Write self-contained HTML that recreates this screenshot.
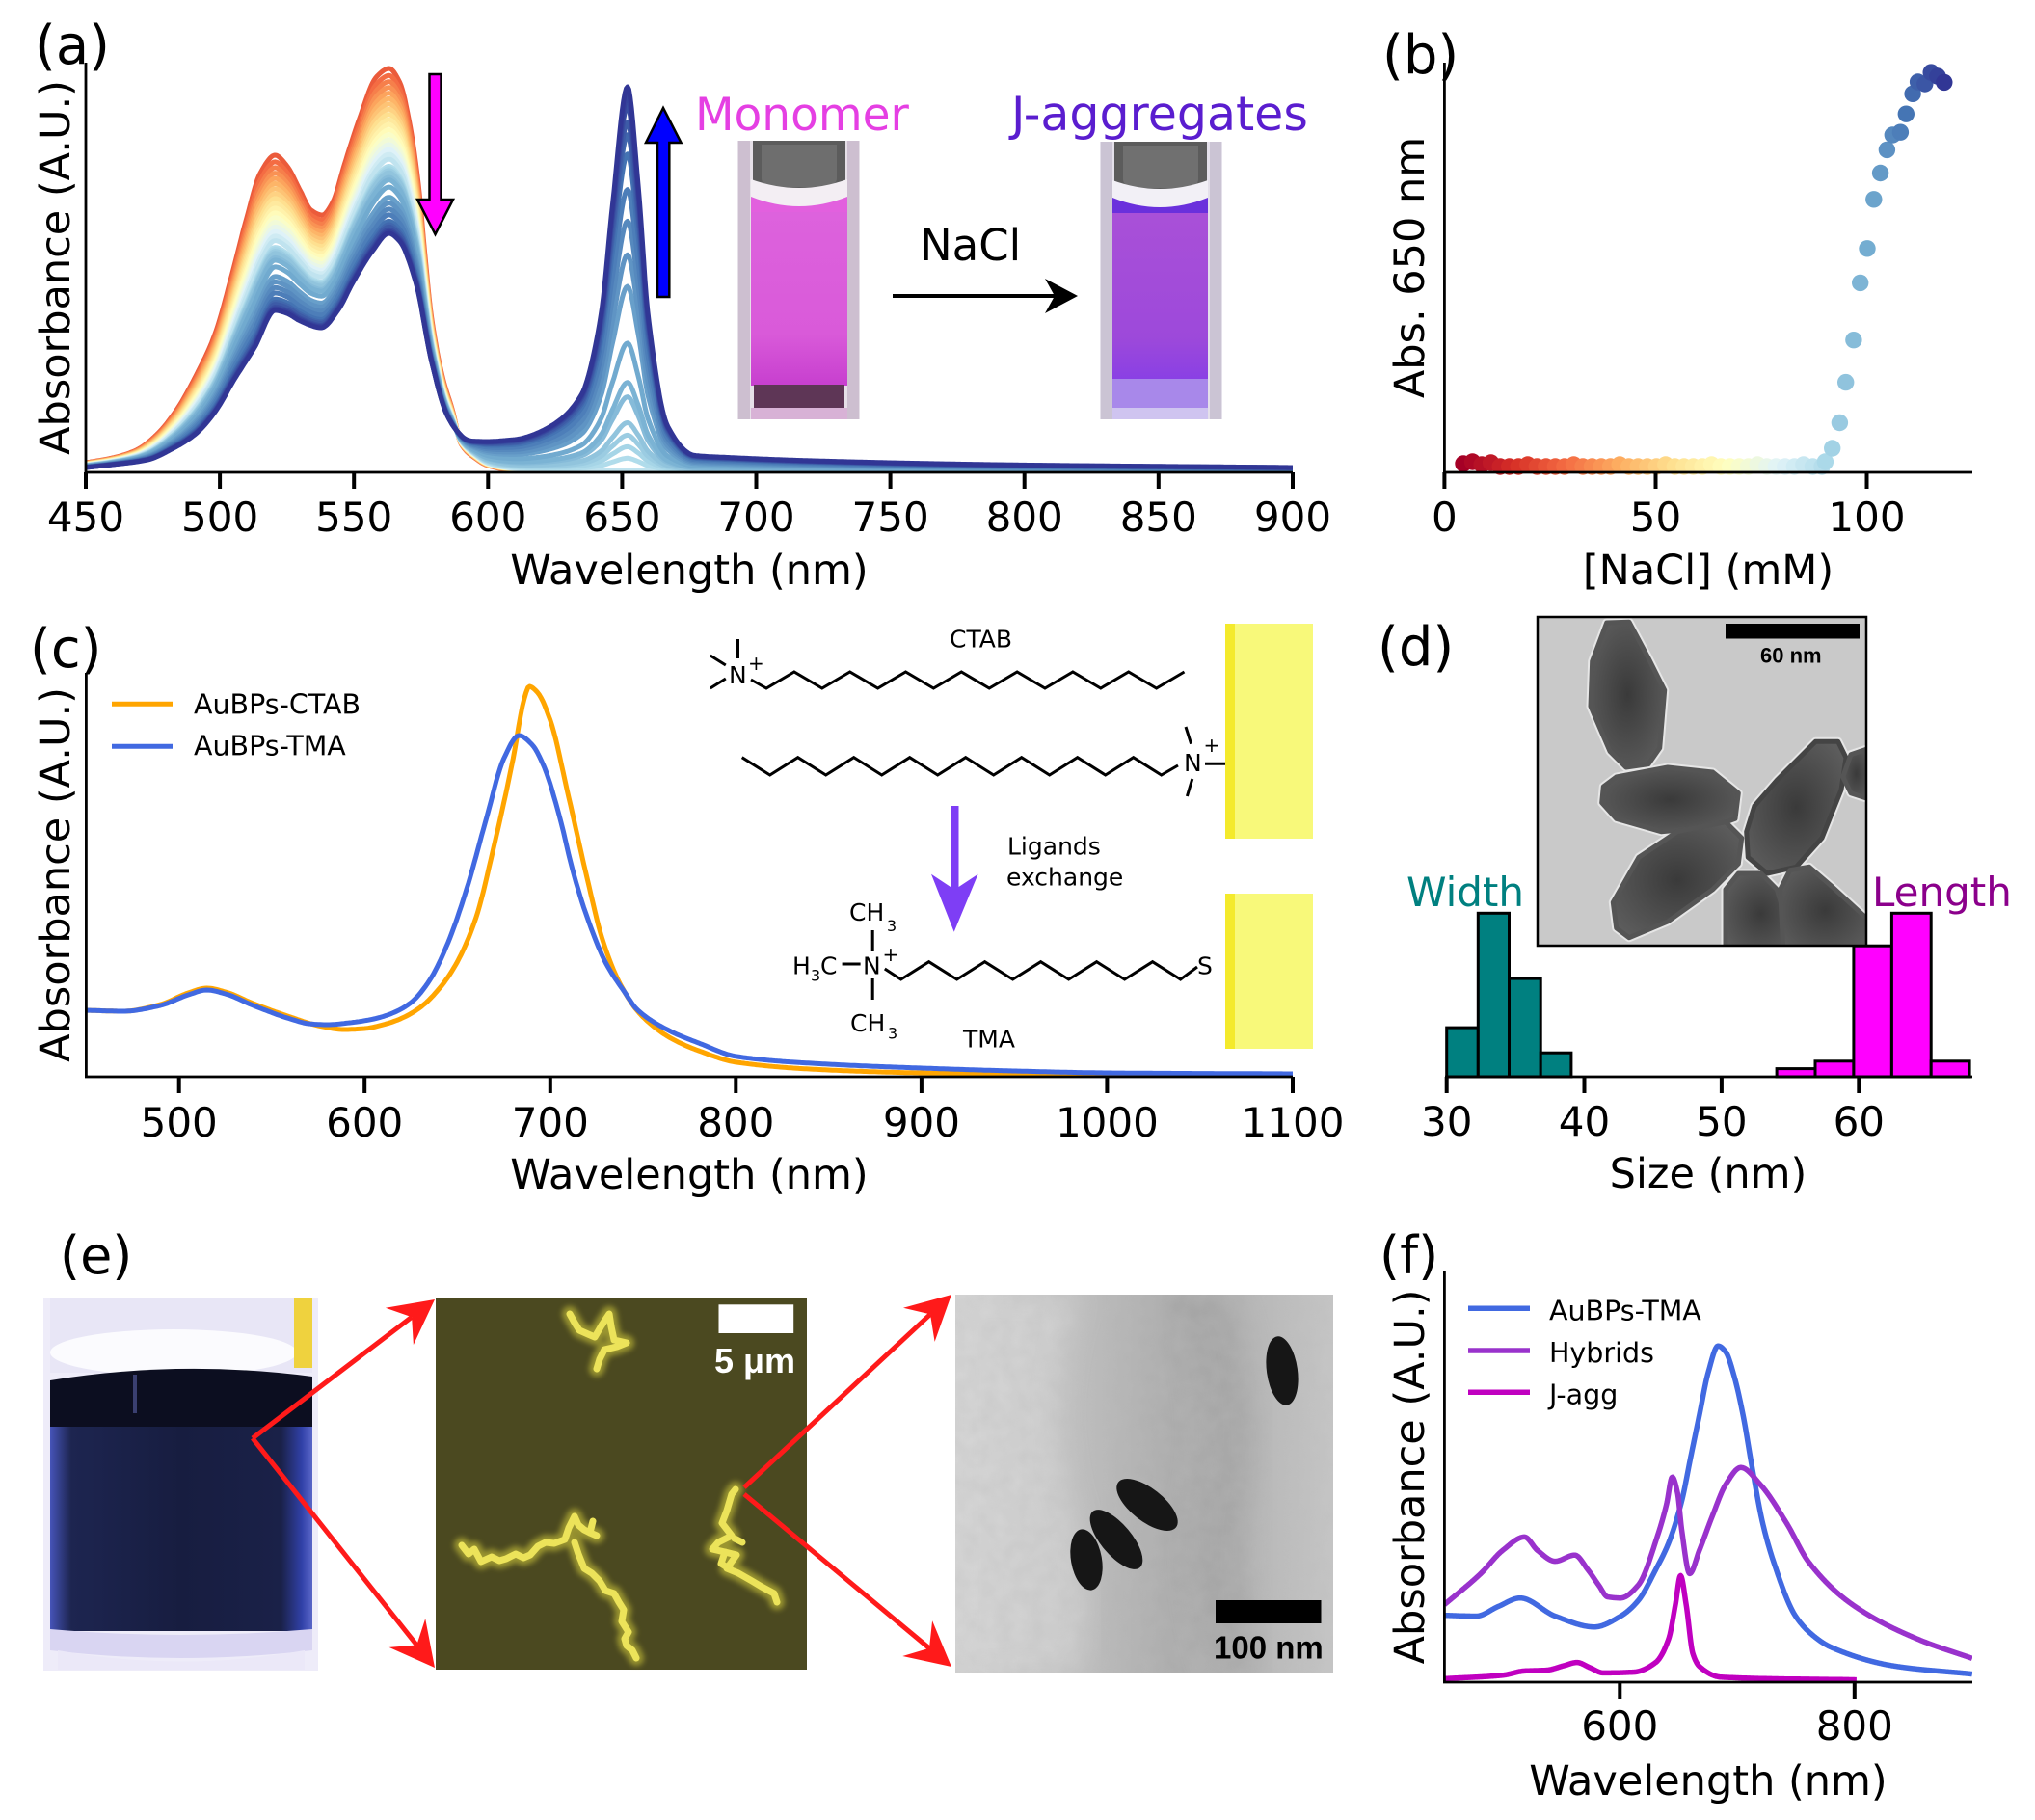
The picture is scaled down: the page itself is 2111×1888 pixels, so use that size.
<!DOCTYPE html>
<html><head><meta charset="utf-8"><style>
html,body{margin:0;padding:0;background:#fff;}
svg{display:block;}
text{font-family:"DejaVu Sans","Liberation Sans",sans-serif;}
.b{font-family:"Liberation Sans","DejaVu Sans",sans-serif;font-weight:bold;}
</style></head><body>
<svg width="2111" height="1888" viewBox="0 0 2111 1888">
<defs>
<clipPath id="clipA"><rect x="89" y="40" width="1252" height="450"/></clipPath>
<clipPath id="clipC"><rect x="89" y="690" width="1252" height="427"/></clipPath>
<clipPath id="clipF"><rect x="1498" y="1300" width="548" height="445"/></clipPath>
<clipPath id="clipD"><rect x="1596" y="641" width="339" height="339"/></clipPath>
<clipPath id="clipTE"><rect x="991" y="1343" width="392" height="392"/></clipPath>
<linearGradient id="monoLiq" x1="0" y1="0" x2="0" y2="1"><stop offset="0" stop-color="#dd62dd"/><stop offset="0.7" stop-color="#d95ad9"/><stop offset="1" stop-color="#c73fcf"/></linearGradient>
<linearGradient id="jLiq" x1="0" y1="0" x2="0" y2="1"><stop offset="0" stop-color="#a950d8"/><stop offset="0.75" stop-color="#9d49da"/><stop offset="1" stop-color="#8a40e4"/></linearGradient>
<linearGradient id="vialLiq" x1="0" y1="0" x2="1" y2="0"><stop offset="0" stop-color="#4654b8"/><stop offset="0.08" stop-color="#1d2550"/><stop offset="0.5" stop-color="#171d40"/><stop offset="0.88" stop-color="#1a2148"/><stop offset="0.96" stop-color="#3141a8"/><stop offset="1" stop-color="#5a66c8"/></linearGradient>
<linearGradient id="temE" x1="0" y1="0" x2="1" y2="0"><stop offset="0" stop-color="#d4d4d4"/><stop offset="0.3" stop-color="#c0c0c0"/><stop offset="0.58" stop-color="#ababab"/><stop offset="0.75" stop-color="#b4b4b4"/><stop offset="1" stop-color="#c6c6c6"/></linearGradient>
<radialGradient id="pg" cx="0.5" cy="0.5" r="0.6"><stop offset="0" stop-color="#3a3a3a"/><stop offset="1" stop-color="#5c5c5c"/></radialGradient>
<filter id="glow" x="-20%" y="-20%" width="140%" height="140%"><feGaussianBlur stdDeviation="3"/></filter>
<filter id="soft" x="-10%" y="-10%" width="120%" height="120%"><feGaussianBlur stdDeviation="14"/></filter>
<filter id="mottle" x="0" y="0" width="100%" height="100%"><feTurbulence type="fractalNoise" baseFrequency="0.06" numOctaves="2" seed="3"/><feColorMatrix type="matrix" values="0 0 0 0 0.5  0 0 0 0 0.5  0 0 0 0 0.5  0 0 0 -1.2 1.05"/></filter>
</defs>

<!-- ================= (a) ================= -->
<g id="aCurves" clip-path="url(#clipA)" fill="none" stroke-width="5" stroke-linejoin="round"></g>
<path d="M89,65V490H1341" fill="none" stroke="#000" stroke-width="2.8"/>
<path d="M89,490V507M228.1,490V507M367.2,490V507M506.3,490V507M645.4,490V507M784.5,490V507M923.6,490V507M1062.7,490V507M1201.8,490V507M1341,490V507" stroke="#000" stroke-width="4"/>
<g font-size="42" text-anchor="middle">
<text x="89" y="551">450</text><text x="228.1" y="551">500</text><text x="367.2" y="551">550</text><text x="506.3" y="551">600</text><text x="645.4" y="551">650</text><text x="784.5" y="551">700</text><text x="923.6" y="551">750</text><text x="1062.7" y="551">800</text><text x="1201.8" y="551">850</text><text x="1341" y="551">900</text>
</g>
<text x="715" y="606" font-size="43" text-anchor="middle">Wavelength (nm)</text>
<text transform="translate(72,277.5) rotate(-90)" font-size="43" text-anchor="middle">Absorbance (A.U.)</text>
<text x="36" y="66" font-size="56">(a)</text>
<!-- arrows -->
<path d="M445.5,77H457.5V207H470L451.5,243L433,207H445.5Z" fill="#ff00ff" stroke="#000" stroke-width="2.5" stroke-linejoin="miter"/>
<path d="M688,112L706.5,148H694.3V308H682V148H670Z" fill="#0000ff" stroke="#000" stroke-width="2.5"/>
<text x="721" y="135" font-size="47" fill="#e53fe3">Monomer</text>
<text x="1049" y="135" font-size="49" fill="#5a1dcf">J-aggregates</text>
<!-- monomer cuvette -->
<g>
<rect x="765" y="146" width="127" height="289" fill="#e6e0e8"/>
<rect x="766" y="146" width="12" height="289" fill="#cdbfd0"/>
<rect x="879" y="146" width="12" height="289" fill="#cdbfd0"/>
<path d="M781,146H877V188Q877,200 862,202H796Q781,200 781,188Z" fill="#5c5c5c"/>
<path d="M790,150H868V185Q868,192 858,194H800Q790,192 790,185Z" fill="#6e6e6e"/>
<path d="M779,186Q829,204 879,186V214H779Z" fill="#f3eef3"/>
<path d="M779,204Q829,224 879,204V224H779Z" fill="#e260de"/>
<rect x="779" y="220" width="100" height="180" fill="url(#monoLiq)"/>
<rect x="782" y="399" width="94" height="24" fill="#5e3656"/>
<rect x="779" y="423" width="100" height="12" fill="#d8b2d6"/>
</g>
<!-- J cuvette -->
<g>
<rect x="1141" y="147" width="127" height="288" fill="#e4e0ea"/>
<rect x="1142" y="147" width="12" height="288" fill="#cbc4d4"/>
<rect x="1255" y="147" width="12" height="288" fill="#cbc4d4"/>
<path d="M1156,147H1252V189Q1252,201 1237,203H1171Q1156,201 1156,189Z" fill="#5c5c5c"/>
<path d="M1165,151H1243V186Q1243,193 1233,195H1175Q1165,193 1165,186Z" fill="#707070"/>
<path d="M1154,187Q1203,205 1253,187V215H1154Z" fill="#f2f0f6"/>
<path d="M1154,205Q1203,225 1253,205V225H1154Z" fill="#6a30dc"/>
<rect x="1154" y="221" width="99" height="172" fill="url(#jLiq)"/>
<rect x="1154" y="393" width="99" height="30" fill="#a888ea"/>
<rect x="1154" y="423" width="99" height="12" fill="#cfc4f0"/>
</g>
<text x="954" y="270" font-size="45">NaCl</text>
<path d="M926,307H1098" stroke="#000" stroke-width="4"/>
<path d="M1118,307L1084,289L1094,307L1084,325Z" fill="#000"/>

<!-- ================= (b) ================= -->
<g id="bDots"></g>
<path d="M1498.4,65V490H2046" fill="none" stroke="#000" stroke-width="2.8"/>
<path d="M1498.4,490V507M1717.5,490V507M1936.5,490V507" stroke="#000" stroke-width="4"/>
<g font-size="42" text-anchor="middle"><text x="1498.4" y="551">0</text><text x="1717.5" y="551">50</text><text x="1936.5" y="551">100</text></g>
<text x="1772" y="606" font-size="43" text-anchor="middle">[NaCl] (mM)</text>
<text transform="translate(1477,277.5) rotate(-90)" font-size="43" text-anchor="middle">Abs. 650 nm</text>
<text x="1434" y="76" font-size="56">(b)</text>

<!-- ================= (c) ================= -->
<g id="cCurves" clip-path="url(#clipC)" fill="none" stroke-width="5" stroke-linejoin="round"></g>
<path d="M89.4,698V1117H1341" fill="none" stroke="#000" stroke-width="2.8"/>
<path d="M185.7,1117V1134M378.2,1117V1134M570.8,1117V1134M763.3,1117V1134M955.9,1117V1134M1148.4,1117V1134M1341,1117V1134" stroke="#000" stroke-width="4"/>
<g font-size="42" text-anchor="middle">
<text x="185.7" y="1179">500</text><text x="378.2" y="1179">600</text><text x="570.8" y="1179">700</text><text x="763.3" y="1179">800</text><text x="955.9" y="1179">900</text><text x="1148.4" y="1179">1000</text><text x="1341" y="1179">1100</text>
</g>
<text x="715" y="1233" font-size="43" text-anchor="middle">Wavelength (nm)</text>
<text transform="translate(72,907.5) rotate(-90)" font-size="43" text-anchor="middle">Absorbance (A.U.)</text>
<text x="31" y="692" font-size="56">(c)</text>
<path d="M116,730.2H179" stroke="#ffa500" stroke-width="5"/>
<path d="M116,774.3H179" stroke="#4169e1" stroke-width="5"/>
<text x="201" y="740.4" font-size="28.5">AuBPs-CTAB</text>
<text x="201" y="783.5" font-size="28.5">AuBPs-TMA</text>
<!-- chemistry -->
<rect x="1271" y="647" width="91" height="223" fill="#f8f97a"/>
<rect x="1271" y="647" width="10" height="223" fill="#f4ea2c"/>
<rect x="1271" y="927" width="91" height="161" fill="#f8f97a"/>
<rect x="1271" y="927" width="10" height="161" fill="#f4ea2c"/>
<g fill="none" stroke="#000" stroke-width="3" stroke-linejoin="miter">
<path d="M779,705L795,714L823.9,697L852.8,714L881.7,697L910.6,714L939.5,697L968.4,714L997.3,697L1026.2,714L1055.1,697L1084,714L1112.9,697L1141.8,714L1170.7,697L1199.6,714L1228.5,697"/>
<path d="M765.5,663V683M736.8,680L752.8,690M736.8,714L752.8,704"/>
<path d="M769.7,785.7L798.7,804L827.7,785.7L856.7,804L885.7,785.7L914.7,804L943.7,785.7L972.7,804L1001.7,785.7L1030.7,804L1059.7,785.7L1088.7,804L1117.7,785.7L1146.7,804L1175.7,785.7L1204.7,804L1222,794"/>
<path d="M1230,754L1235.6,771.7M1236.8,808L1231.4,826M1250,792.3H1271"/>
<path d="M917.8,1005L934.6,1016L963.6,997.7L992.6,1016L1021.6,997.7L1050.6,1016L1079.6,997.7L1108.6,1016L1137.6,997.7L1166.6,1016L1195.6,997.7L1224.6,1016L1242,1003"/>
<path d="M905.2,965V987M905.2,1015V1037M873.6,1000H892.6"/>
</g>
<g font-size="25">
<text x="985" y="671.7">CTAB</text>
<text x="756" y="709">N</text><text x="776" y="695" font-size="20">+</text>
<text x="1228" y="800">N</text><text x="1248.5" y="780" font-size="20">+</text>
<text x="1045" y="886.7">Ligands</text>
<text x="1044" y="918.3">exchange</text>
<text x="881" y="955">CH</text><text x="920" y="966" font-size="16">3</text>
<text x="822" y="1010.7">H</text><text x="841" y="1017.5" font-size="16">3</text><text x="851" y="1010.7">C</text>
<text x="895" y="1010.7">N</text><text x="915.5" y="997" font-size="20">+</text>
<text x="882" y="1070">CH</text><text x="921" y="1077.5" font-size="16">3</text>
<text x="1242" y="1010.7">S</text>
<text x="999" y="1086.7">TMA</text>
</g>
<path d="M986,836H994.5V920L1014.6,906.7L989.7,966.7L966,906.7L986,920Z" fill="#7e3ef5"/>

<!-- ================= (d) ================= -->
<g stroke="#000" stroke-width="3">
<rect x="1500.7" y="1066.1" width="32.6" height="50.9" fill="#008080"/>
<rect x="1533.3" y="947.3" width="32.2" height="169.7" fill="#008080"/>
<rect x="1565.5" y="1015.1" width="32.7" height="101.9" fill="#008080"/>
<rect x="1598.2" y="1092.2" width="31.7" height="24.8" fill="#008080"/>
<rect x="1843.1" y="1108.6" width="39.9" height="8.4" fill="#ff00ff"/>
<rect x="1883" y="1100.8" width="39.9" height="16.2" fill="#ff00ff"/>
<rect x="1922.9" y="981.2" width="39.5" height="135.8" fill="#ff00ff"/>
<rect x="1962.4" y="947.3" width="40.8" height="169.7" fill="#ff00ff"/>
<rect x="2003.2" y="1100.8" width="39.9" height="16.2" fill="#ff00ff"/>
</g>
<path d="M1499,1117H2046" stroke="#000" stroke-width="2.8"/>
<path d="M1500.7,1117V1134M1643.5,1117V1134M1785.9,1117V1134M1928.3,1117V1134" stroke="#000" stroke-width="4"/>
<g font-size="42" text-anchor="middle"><text x="1500.7" y="1178">30</text><text x="1643.5" y="1178">40</text><text x="1785.9" y="1178">50</text><text x="1928.3" y="1178">60</text></g>
<text x="1772" y="1232" font-size="43" text-anchor="middle">Size (nm)</text>
<text x="1429" y="690" font-size="56">(d)</text>
<text x="1459" y="940" font-size="42" fill="#008080">Width</text>
<text x="1942" y="940" font-size="42" fill="#8b008b">Length</text>
<!-- TEM inset -->
<rect x="1595" y="640" width="341" height="341" fill="#c9c9c9"/>
<g clip-path="url(#clipD)" stroke-linejoin="round">
<g fill="none" stroke="#e6e6e6" stroke-width="9">
<polygon points="1666.7,646 1690,645.3 1710,682.7 1726.7,716 1721.7,776 1710,792.7 1686.7,796 1670,779.3 1650,732.7 1651.7,686"/>
<polygon points="1663.3,816 1676.7,806 1730,796 1776.7,801 1803.3,822.7 1800,849.3 1776.7,857.7 1723.3,862.7 1676.7,849.3 1661.7,832.7"/>
<polygon points="1673.3,936 1700,889.3 1740,862.7 1790,852.7 1806.7,869.3 1803.3,896 1776.7,922.7 1730,956 1690,972.7 1676.7,962.7"/>
<polygon points="1820,836 1843.3,809.3 1883.3,769.3 1906.7,769.3 1915,786 1910,819.3 1890,869.3 1863.3,899.3 1833.3,906 1813.3,889.3 1811.7,862.7"/>
<polygon points="1790,990 1790,922.7 1803.3,906 1826.7,906 1843.3,922.7 1863.3,990"/>
<polygon points="1850,990 1846.7,922.7 1856.7,902.7 1876.7,899.3 1900,919.3 1940,956 1940,990"/>
<polygon points="1940,776 1920,782.7 1911.7,806 1920,822.7 1940,829.3"/>
</g>
<g fill="url(#pg)" stroke="#555" stroke-width="5">
<polygon points="1666.7,646 1690,645.3 1710,682.7 1726.7,716 1721.7,776 1710,792.7 1686.7,796 1670,779.3 1650,732.7 1651.7,686"/>
<polygon points="1663.3,816 1676.7,806 1730,796 1776.7,801 1803.3,822.7 1800,849.3 1776.7,857.7 1723.3,862.7 1676.7,849.3 1661.7,832.7"/>
<polygon points="1673.3,936 1700,889.3 1740,862.7 1790,852.7 1806.7,869.3 1803.3,896 1776.7,922.7 1730,956 1690,972.7 1676.7,962.7"/>
<polygon points="1820,836 1843.3,809.3 1883.3,769.3 1906.7,769.3 1915,786 1910,819.3 1890,869.3 1863.3,899.3 1833.3,906 1813.3,889.3 1811.7,862.7" stroke="#444"/>
<polygon points="1790,990 1790,922.7 1803.3,906 1826.7,906 1843.3,922.7 1863.3,990"/>
<polygon points="1850,990 1846.7,922.7 1856.7,902.7 1876.7,899.3 1900,919.3 1940,956 1940,990"/>
<polygon points="1940,776 1920,782.7 1911.7,806 1920,822.7 1940,829.3"/>
</g>
</g>
<rect x="1595" y="640" width="341" height="341" fill="none" stroke="#000" stroke-width="2.5"/>
<rect x="1790" y="647" width="139" height="15.5" fill="#000"/>
<text x="1826" y="687.7" font-size="22" class="b">60 nm</text>

<!-- ================= (e) ================= -->
<text x="62" y="1321" font-size="54">(e)</text>
<!-- vial -->
<g>
<rect x="45" y="1346" width="285" height="387" fill="#eeecf9"/>
<rect x="52" y="1346" width="272" height="78" fill="#e8e6f6"/>
<ellipse cx="180" cy="1403" rx="128" ry="24" fill="#fbfbfe"/>
<rect x="305" y="1347" width="19" height="72" fill="#efd23e"/>
<path d="M52,1432Q187,1410 324,1428V1482H52Z" fill="#0c0e20"/>
<rect x="52" y="1480" width="272" height="212" fill="url(#vialLiq)"/>
<path d="M52,1690Q187,1702 324,1690V1712Q187,1728 52,1712Z" fill="#d9d5f2"/>
<path d="M60,1712Q187,1735 316,1712V1732H60Z" fill="#ebe8f8"/>
<rect x="138" y="1426" width="4" height="40" fill="#3a3f70"/>
</g>
<!-- dark-field -->
<rect x="452" y="1347" width="385" height="385" fill="#4b4920"/>
<g fill="none" stroke-linejoin="round" stroke-linecap="round">
<g stroke="#e8e040" stroke-width="16" opacity="0.5" filter="url(#glow)">
<path d="M591,1363L596,1372L601,1380L610,1384L617,1387L624,1375L632,1363L634,1376L637,1390L650,1393L640,1397L627,1400L622,1410L619,1420"/>
<path d="M479,1603L486,1612L492,1607L499,1620L510,1615L518,1619L525,1617L535,1612L543,1616L550,1613L558,1604L566,1600L575,1601L586,1597L590,1585L596,1573L600,1582L606,1587L612,1590L619,1593"/>
<path d="M596,1600L600,1612L606,1627L614,1632L622,1640L628,1650L637,1653L642,1662L647,1670L645,1682L652,1693L648,1700L650,1707L656,1712L660,1720"/>
<path d="M763,1545L759,1550L754,1567L749,1580L759,1593L745,1600L739,1607L752,1610L764,1613L754,1627L766,1632L780,1640L790,1646L803,1653L806,1662"/>
</g>
<g stroke="#ece35a" stroke-width="7">
<path d="M591,1363L596,1372L601,1380L610,1384L617,1387L624,1375L632,1363L634,1376L637,1390L650,1393L640,1397L627,1400L622,1410L619,1420"/>
<path d="M479,1603L486,1612L492,1607L499,1620L510,1615L518,1619L525,1617L535,1612L543,1616L550,1613L558,1604L566,1600L575,1601L586,1597L590,1585L596,1573L600,1582L606,1587L612,1590L619,1593"/>
<path d="M596,1600L600,1612L606,1627L614,1632L622,1640L628,1650L637,1653L642,1662L647,1670L645,1682L652,1693L648,1700L650,1707L656,1712L660,1720"/>
<path d="M763,1545L759,1550L754,1567L749,1580L759,1593L745,1600L739,1607L752,1610L764,1613L754,1627L766,1632L780,1640L790,1646L803,1653L806,1662"/>
<path d="M752,1610L748,1622L758,1628M770,1600L762,1596M612,1590L615,1578"/>
</g>
</g>
<rect x="745.5" y="1353.3" width="77.7" height="29.7" fill="#fff"/>
<text x="741" y="1424" font-size="36" class="b" fill="#fff">5 μm</text>
<!-- TEM e -->
<rect x="991" y="1343" width="392" height="392" fill="url(#temE)"/>
<g clip-path="url(#clipTE)">
<path d="M991,1343H1120Q1080,1450 1110,1560Q1140,1650 1120,1735H991Z" fill="#d8d8d8" opacity="0.6" filter="url(#soft)"/>
<path d="M1215,1343Q1260,1450 1240,1550Q1230,1650 1260,1735H1310Q1280,1620 1300,1540Q1310,1440 1275,1343Z" fill="#9a9a9a" opacity="0.5" filter="url(#soft)"/>
<rect x="991" y="1343" width="392" height="392" filter="url(#mottle)" opacity="0.35"/>
<g fill="#161616">
<ellipse cx="1330" cy="1422" rx="36" ry="16" transform="rotate(82 1330 1422)"/>
<ellipse cx="1190" cy="1561" rx="38" ry="17" transform="rotate(38 1190 1561)"/>
<ellipse cx="1158" cy="1597" rx="38" ry="16" transform="rotate(50 1158 1597)"/>
<ellipse cx="1127" cy="1618" rx="32" ry="16" transform="rotate(80 1127 1618)"/>
</g>
</g>
<rect x="1261" y="1660" width="109.5" height="24" fill="#000"/>
<text x="1259" y="1720.5" font-size="33" class="b">100 nm</text>
<!-- red arrows -->
<g stroke="#ff1a1a" stroke-width="5" fill="none">
<path d="M262,1492L427.1,1366.2"/>
<path d="M262,1492L432.3,1706.5"/>
<path d="M772,1543L965,1363.4"/>
<path d="M772,1550L964,1709.8"/>
</g>
<g fill="#ff1a1a">
<path d="M451,1348L428.9,1395L427.1,1366.2L399.9,1356.8Z"/>
<path d="M451,1730L403.6,1708.9L432.3,1706.5L441.2,1679.1Z"/>
<path d="M987,1343L969.6,1391.9L965,1363.4L937,1356.7Z"/>
<path d="M987,1729L936.3,1718L964,1709.8L967.1,1681.2Z"/>
</g>

<!-- ================= (f) ================= -->
<g id="fCurves" clip-path="url(#clipF)" fill="none" stroke-width="5.5" stroke-linejoin="round"></g>
<path d="M1498.4,1319V1745H2046" fill="none" stroke="#000" stroke-width="2.8"/>
<path d="M1680.3,1745V1762M1923.8,1745V1762" stroke="#000" stroke-width="4"/>
<g font-size="42" text-anchor="middle"><text x="1680.3" y="1805">600</text><text x="1923.8" y="1805">800</text></g>
<text x="1772" y="1862" font-size="43" text-anchor="middle">Wavelength (nm)</text>
<text transform="translate(1477,1532) rotate(-90)" font-size="43" text-anchor="middle">Absorbance (A.U.)</text>
<text x="1431" y="1321" font-size="54">(f)</text>
<path d="M1523,1357.3H1587" stroke="#4169e1" stroke-width="5.5"/>
<path d="M1523,1401H1587" stroke="#9932cc" stroke-width="5.5"/>
<path d="M1523,1444.2H1587" stroke="#c000c0" stroke-width="5.5"/>
<text x="1607" y="1369.5" font-size="28.5">AuBPs-TMA</text>
<text x="1607" y="1413.2" font-size="28.5">Hybrids</text>
<text x="1607" y="1456.5" font-size="28.5">J-agg</text>
</svg>
<script>
function mono(xs,ys){
 var n=xs.length,d=[],m=new Array(n),i;
 for(i=0;i<n-1;i++)d.push((ys[i+1]-ys[i])/(xs[i+1]-xs[i]));
 m[0]=d[0];m[n-1]=d[n-2];
 for(i=1;i<n-1;i++){
  if(d[i-1]*d[i]<=0)m[i]=0;
  else{var h0=xs[i]-xs[i-1],h1=xs[i+1]-xs[i],w1=2*h1+h0,w2=h1+2*h0;m[i]=(w1+w2)/(w1/d[i-1]+w2/d[i]);}
 }
 return function(x){
  if(x<=xs[0])return ys[0];if(x>=xs[n-1])return ys[n-1];
  var k=0;while(x>xs[k+1])k++;
  var h=xs[k+1]-xs[k],t=(x-xs[k])/h,t2=t*t,t3=t2*t;
  return (2*t3-3*t2+1)*ys[k]+(t3-2*t2+t)*h*m[k]+(-2*t3+3*t2)*ys[k+1]+(t3-t2)*h*m[k+1];
 };
}
function P(pts){var s='M';for(var i=0;i<pts.length;i++){s+=(i?'L':'')+pts[i][0].toFixed(1)+','+pts[i][1].toFixed(1);}return s;}
var RB=['#a50026','#d73027','#f46d43','#fdae61','#fee090','#ffffbf','#e0f3f8','#abd9e9','#74add1','#4575b4','#313695'];
function hx(c){return [parseInt(c.substr(1,2),16),parseInt(c.substr(3,2),16),parseInt(c.substr(5,2),16)];}
function cmap(t){t=Math.max(0,Math.min(1,t));var p=t*10,i=Math.min(9,Math.floor(p)),f=p-i,a=hx(RB[i]),b=hx(RB[i+1]);
 return 'rgb('+Math.round(a[0]+(b[0]-a[0])*f)+','+Math.round(a[1]+(b[1]-a[1])*f)+','+Math.round(a[2]+(b[2]-a[2])*f)+')';}

/* (a) */
var Mx=mono([450,460,468.8,476,483.4,491,498.1,504,509.9,515,520.6,525,530,534,538.2,542,546.5,552.4,558.3,563.1,567,570.7,574.1,576.5,578.8,583.2,586.9,589.8,595,600,610,630,900],
 [10,15,23,38,63,100,143,200,263,310,329,318,292,272,267,280,320,370,410,419,405,363,297,225,163,97,63,30,15,7,2,0,0]);
var Mn=mono([450,460,473,482,491,498,505.5,513,520.6,525,530,537.8,544,549.6,557,563,567,573,579,584.8,590,595,600,605,615,650,900],
 [5,8,13,24,40,62,97,130,168,165,157,150,168,197,230,248,240,197,113,57,35,22,12,8,5,3,1]);
var Jf=mono([570,590,600,604,612.7,623,634.8,642.1,646.5,652,656,659.7,667,677,690,720,800,900],
 [0,3,20,24,30,43,77,160,277,397,294,160,45,15,13,10,6,4]);
var curves=[],NA=18,i,k;
for(i=0;i<NA;i++){var f=i/(NA-1);curves.push({t:0.17+0.49*f,s:0.55*Math.pow(f,0.9),j:0});}
var jl=[13,25,37,50,77,92,133,192,225,260,293,330,350,363,380,390,400].map(function(v){return v/400;});
for(k=0;k<jl.length;k++){var g=k/(jl.length-1);curves.push({t:0.69+0.31*g,s:0.58+0.42*jl[k],j:jl[k]});}
var sa='';
curves.forEach(function(c){var pts=[];for(var l=450;l<=900.01;l+=0.5){var h=Mx(l)*(1-c.s)+Mn(l)*c.s+c.j*Jf(l);pts.push([89+(l-450)*2.782,490-h]);}
 sa+='<path d="'+P(pts)+'" stroke="'+cmap(c.t)+'"/>';});
document.getElementById('aCurves').innerHTML=sa;

/* (b) */
var sb='';
var nb=40;
for(i=0;i<nb;i++){var x=1518+i*(1890-1518)/(nb-1);var y=484-(i<4?[3,5,2,4][i]:(i%5==2?2:0));
 sb+='<circle cx="'+x.toFixed(1)+'" cy="'+y+'" r="8.7" fill="'+cmap(0.68*i/(nb-1))+'"/>';}
var rd=[[1893.4,479],[1900.7,465],[1908.4,438.5],[1914.7,396.6],[1922.9,352.7],[1929.7,293.4],[1937,257.8],[1943.8,206.8],[1950.6,179.5],[1957.4,155.4],[1963.3,140],[1971.4,137.2],[1977.3,118.2],[1984.1,97.3],[1989.6,85],[1996.8,87],[2003.2,75.1],[2010,79.1],[2016.8,85.4]];
rd.forEach(function(p,q){sb+='<circle cx="'+p[0]+'" cy="'+p[1]+'" r="8.7" fill="'+cmap(0.7+0.3*q/(rd.length-1))+'"/>';});
document.getElementById('bDots').innerHTML=sb;

/* (c) */
var cO=mono([450,470,490,505,515,525,540,560,575,589,600,610,619.2,630,640,649.3,660,669.3,680,686,688.7,693,700,709.6,720,728.2,738,749,765,780,800.5,850,900,1000,1100],
 [69,68,75,87,92,88,76,62,53,49,50,54,60,72,91,117,165,236,330,392,405,399,370,293,205,142,95,64,40,27,15,7,4,2,1.5]);
var cB=mono([450,470,490,505,515,525,540,560,570,579.8,592,605,615,625,635,644.7,655,665.6,675,683.2,690,696.6,705,712,718.9,730,740,746.7,765,780,800.5,850,900,950,1000,1100],
 [69,68,74,85,90,86,74,60,55,54,56,60,66,77,100,138,195,268,330,354,345,322,270,215,171,118,88,70,47,35,21,13,9,6,4,3]);
function cPath(fn){var pts=[];for(var l=450;l<=1100.01;l+=1){pts.push([89.4+(l-450)*1.9255,1117-fn(l)]);}return P(pts);}
document.getElementById('cCurves').innerHTML='<path d="'+cPath(cO)+'" stroke="#ffa500"/><path d="'+cPath(cB)+'" stroke="#4169e1"/>';

/* (f) */
function fPath(arr){var xs=arr.map(function(p){return p[0];}),ys=arr.map(function(p){return p[1];});var fn=mono(xs,ys),pts=[];
 for(var x=xs[0];x<=xs[xs.length-1]+0.01;x+=0.5){pts.push([x,fn(x)]);}return P(pts);}
var fB=[[1498.4,1675.7],[1531.5,1676.5],[1554.2,1666.5],[1576.9,1657.7],[1613.2,1676.5],[1654,1687.7],[1681.2,1676.5],[1699.3,1660.5],[1717.5,1628.4],[1731,1600.4],[1744.7,1556.4],[1753.7,1512.3],[1762.8,1468.2],[1771.9,1424.2],[1782.3,1396.2],[1790,1402.2],[1799.1,1428.2],[1808.2,1468.2],[1817.2,1520.3],[1828.6,1580.4],[1839.9,1620.4],[1862.6,1676.5],[1880.7,1696.5],[1898.9,1708.5],[1966.9,1728.6],[2046.3,1736.6]];
var fP=[[1498.4,1664.5],[1536,1632.4],[1558.7,1608.4],[1581.4,1594.4],[1595,1608.4],[1613.2,1619.6],[1633.6,1613.2],[1647.2,1628.4],[1658.5,1644.5],[1667.6,1656.5],[1681.2,1657.7],[1699.3,1644.5],[1719.7,1592.4],[1728.8,1560.4],[1734.7,1532.3],[1740.1,1548.3],[1744.7,1588.4],[1752.8,1632.4],[1762.8,1608.4],[1776.4,1572.4],[1790,1540.3],[1805.9,1522.3],[1826.3,1540.3],[1853.5,1580.4],[1876.2,1620.4],[1921.5,1664.5],[1989.6,1700.5],[2046.3,1720.5]];
var fM=[[1498.4,1741.4],[1558.7,1737.8],[1581.4,1733.4],[1604.1,1732.6],[1622.2,1728],[1635.8,1724.6],[1649.4,1730],[1663,1735.4],[1694.8,1734.6],[1717.5,1724.6],[1731,1700],[1737.9,1665],[1743.3,1634.5],[1749.2,1665],[1756,1715],[1762.8,1728.6],[1785.5,1739.8],[1926.1,1742.6]];
document.getElementById('fCurves').innerHTML='<path d="'+fPath(fB)+'" stroke="#4169e1"/><path d="'+fPath(fP)+'" stroke="#9932cc"/><path d="'+fPath(fM)+'" stroke="#c000c0"/>';
</script>
</body></html>
